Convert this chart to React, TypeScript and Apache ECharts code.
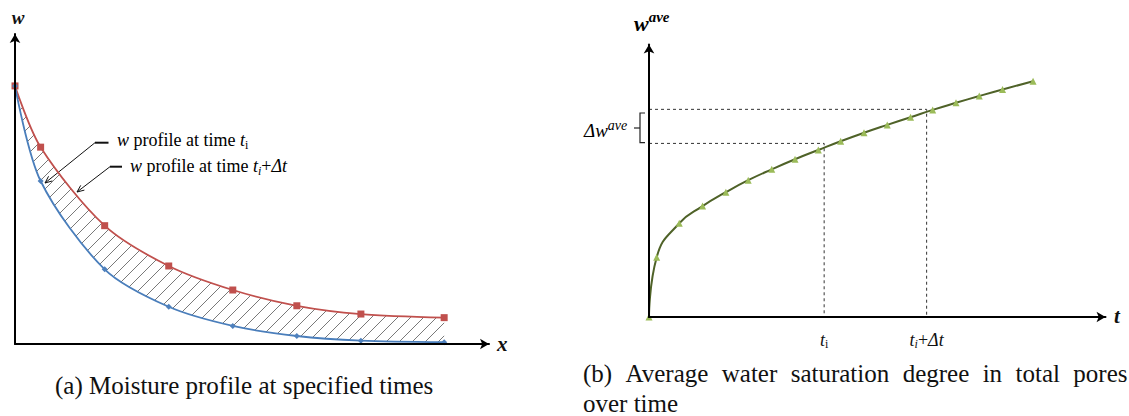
import React, { useEffect, useRef } from "react";
import * as echarts from "echarts";

// (a) moisture profiles along depth x
const profileX = [0, 0.4, 1.4, 2.4, 3.4, 4.4, 5.4, 6.7];
const profileAtTi = [9.99, 6.31, 2.89, 1.44, 0.7, 0.31, 0.13, 0.07];
const profileAtTiDt = [9.99, 7.62, 4.58, 3.02, 2.09, 1.48, 1.16, 1.02];

// (b) average saturation over time
const timeT = [0, 0.33, 1.3, 2.3, 3.3, 4.26, 5.27, 6.27, 7.27, 8.23, 9.23, 10.23, 11.23, 12.18, 13.18, 14.18, 15.18, 16.49];
const wAve = [0, 2.19, 3.44, 4.07, 4.58, 5.02, 5.42, 5.79, 6.13, 6.45, 6.76, 7.05, 7.33, 7.6, 7.86, 8.11, 8.35, 8.65];
const markT = [7.52, 11.92];
const markW = [6.37, 7.62];

const SERIF = "Liberation Serif";

const hatchSvg =
  '<svg xmlns="http://www.w3.org/2000/svg" width="13" height="13">' +
  '<path d="M-1 14 L14 -1 M-3 3 L3 -3 M10 16 L16 10" stroke="#6a6a6a" stroke-width="0.9" fill="none"/></svg>';
const hatchUrl = "data:image/svg+xml;utf8," + encodeURIComponent(hatchSvg);

function arrowHead(tip: number[], from: number[], len = 7, half = 3) {
  const dx = tip[0] - from[0];
  const dy = tip[1] - from[1];
  const d = Math.hypot(dx, dy);
  const ux = dx / d;
  const uy = dy / d;
  const bx = tip[0] - ux * len;
  const by = tip[1] - uy * len;
  return [
    [bx - uy * half, by + ux * half],
    tip,
    [bx + uy * half, by - ux * half],
  ];
}

function leader(start: number[], knee: number[], tip: number[]) {
  return [
    { type: "line", shape: { x1: start[0], y1: start[1], x2: knee[0], y2: knee[1] }, style: { stroke: "#111", lineWidth: 2 } },
    { type: "line", shape: { x1: knee[0], y1: knee[1], x2: tip[0], y2: tip[1] }, style: { stroke: "#111", lineWidth: 1 } },
    { type: "polyline", shape: { points: arrowHead(tip, knee) }, style: { stroke: "#111", lineWidth: 1, fill: null } },
  ];
}

const zip = (xs: number[], ys: number[]) => xs.map((x, i) => [x, ys[i]]);

const italicRich = {
  it: { fontFamily: SERIF, fontStyle: "italic", fontSize: 18, color: "#111" },
  n: { fontFamily: SERIF, fontSize: 18, color: "#111" },
  sub: { fontFamily: SERIF, fontSize: 12, color: "#111", padding: [9, 0, 0, 0] },
  isub: { fontFamily: SERIF, fontStyle: "italic", fontSize: 12, color: "#111", padding: [9, 0, 0, 0] },
};

const axisLine = {
  show: true,
  symbol: ["none", "arrow"],
  symbolSize: [8, 9],
  lineStyle: { color: "#000", width: 2 },
};

export default function App() {
  const ref = useRef<HTMLDivElement>(null);

  useEffect(() => {
    if (!ref.current) return;
    const chart = echarts.init(ref.current, null, { renderer: "svg" });

    const option: any = {
      animation: false,
      backgroundColor: "#fff",
      grid: [
        { left: 15, top: 34, width: 474, height: 310 },
        { left: 649, top: 44.5, width: 456.5, height: 272.5 },
      ],
      xAxis: [
        {
          gridIndex: 0, type: "value", min: 0, max: 7.4, z: 10,
          axisLine, axisTick: { show: false }, axisLabel: { show: false }, splitLine: { show: false },
        },
        {
          gridIndex: 1, type: "value", min: 0, max: 19.6, z: 10,
          axisLine, axisTick: { show: false }, splitLine: { show: false },
          axisLabel: {
            show: true,
            customValues: markT,
            margin: 12,
            formatter: (v: number) =>
              v === markT[0] ? "{it|t}{sub|i}" : "{it|t}{isub|i}{n|+}{it|Δt}",
            rich: italicRich,
          },
        },
      ],
      yAxis: [
        {
          gridIndex: 0, type: "value", min: 0, max: 12, z: 10,
          axisLine, axisTick: { show: false }, axisLabel: { show: false }, splitLine: { show: false },
        },
        {
          gridIndex: 1, type: "value", min: 0, max: 10, z: 10,
          axisLine, axisTick: { show: false }, axisLabel: { show: false }, splitLine: { show: false },
        },
      ],
      series: [
        // hatched band: hatch under the later profile, blanked out under the earlier one
        {
          type: "line", xAxisIndex: 0, yAxisIndex: 0, smooth: 0.3,
          data: zip(profileX, profileAtTiDt), symbol: "none", silent: true,
          lineStyle: { opacity: 0 },
          areaStyle: {
            opacity: 1,
            color: { image: hatchUrl, repeat: "repeat", imageWidth: 13, imageHeight: 13 },
          },
          z: 1,
        },
        {
          type: "line", xAxisIndex: 0, yAxisIndex: 0, smooth: 0.3,
          data: zip(profileX, profileAtTi), symbol: "none", silent: true,
          lineStyle: { opacity: 0 },
          areaStyle: { opacity: 1, color: "#fff" },
          z: 1,
        },
        {
          name: "t_i+Δt", type: "line", xAxisIndex: 0, yAxisIndex: 0, smooth: 0.3,
          data: zip(profileX, profileAtTiDt), symbol: "rect", symbolSize: 7,
          itemStyle: { color: "#c0504d" }, lineStyle: { color: "#c0504d", width: 1.8 }, z: 4,
        },
        {
          name: "t_i", type: "line", xAxisIndex: 0, yAxisIndex: 0, smooth: 0.3,
          data: zip(profileX, profileAtTi), symbol: "diamond", symbolSize: 6,
          itemStyle: { color: "#4f81bd" }, lineStyle: { color: "#4a7ebb", width: 1.8 }, z: 4,
        },
        // dashed guides at t_i and t_i+Δt
        ...markT.map((t, i) => ({
          type: "line", xAxisIndex: 1, yAxisIndex: 1, symbol: "none", silent: true,
          data: [[0, markW[i]], [t, markW[i]], [t, 0]],
          lineStyle: { color: "#333", width: 1, type: [3, 3] }, z: 2,
        })),
        {
          name: "w_ave", type: "line", xAxisIndex: 1, yAxisIndex: 1,
          smooth: 0.5,
          data: zip(timeT, wAve), symbol: "triangle", symbolSize: 7,
          itemStyle: { color: "#9bbb59" }, lineStyle: { color: "#4f6228", width: 2 }, z: 4,
        },
      ],
      graphic: [
        // axis names
        { type: "text", x: 18, y: 17, style: { text: "w", fontFamily: SERIF, fontWeight: "bold", fontStyle: "italic", fontSize: 19, fill: "#111", align: "center", verticalAlign: "middle" } },
        { type: "text", x: 497, y: 344, style: { text: "x", fontFamily: SERIF, fontWeight: "bold", fontStyle: "italic", fontSize: 21, fill: "#111", align: "left", verticalAlign: "middle" } },
        { type: "text", x: 1114, y: 316, style: { text: "t", fontFamily: SERIF, fontWeight: "bold", fontStyle: "italic", fontSize: 21, fill: "#111", align: "left", verticalAlign: "middle" } },
        {
          type: "text", x: 634, y: 23,
          style: {
            text: "{w|w}{s|ave}", align: "left", verticalAlign: "middle",
            rich: {
              w: { fontFamily: SERIF, fontWeight: "bold", fontStyle: "italic", fontSize: 22, color: "#111" },
              s: { fontFamily: SERIF, fontWeight: "bold", fontStyle: "italic", fontSize: 15, color: "#111", padding: [0, 0, 12, 0] },
            },
          },
        },
        // Δw^ave bracket
        {
          type: "text", x: 584, y: 130,
          style: {
            text: "{w|Δw}{s|ave}", align: "left", verticalAlign: "middle",
            rich: {
              w: { fontFamily: SERIF, fontStyle: "italic", fontSize: 19, color: "#111" },
              s: { fontFamily: SERIF, fontStyle: "italic", fontSize: 14, color: "#111", padding: [0, 0, 10, 0] },
            },
          },
        },
        { type: "polyline", shape: { points: [[645, 113], [640, 113], [640, 142.7], [645, 142.7]] }, style: { stroke: "#222", lineWidth: 1.2, fill: null } },
        { type: "line", shape: { x1: 634, y1: 128, x2: 640, y2: 128 }, style: { stroke: "#222", lineWidth: 1.2 } },
        // profile annotations
        {
          type: "text", x: 117, y: 140,
          style: { text: "{it|w}{n| profile at time }{it|t}{sub|i}", align: "left", verticalAlign: "middle", rich: italicRich },
        },
        {
          type: "text", x: 130, y: 166,
          style: { text: "{it|w}{n| profile at time }{it|t}{isub|i}{n|+}{it|Δt}", align: "left", verticalAlign: "middle", rich: italicRich },
        },
        ...leader([108.5, 142.7], [95, 142.7], [45, 183]),
        ...leader([122, 166.7], [110, 166.7], [77, 192]),
        // captions
        { type: "text", x: 55, y: 385, style: { text: "(a) Moisture profile at specified times", fontFamily: SERIF, fontSize: 25, fill: "#111", align: "left", verticalAlign: "middle" } },
        {
          type: "text", x: 583, y: 373,
          style: {
            // justified first line: widened word gaps
            text: "(b){g| }Average{g| }water{g| }saturation{g| }degree{g| }in{g| }total{g| }pores",
            fontFamily: SERIF, fontSize: 25, fill: "#111", align: "left", verticalAlign: "middle",
            rich: { g: { fontFamily: SERIF, fontSize: 25, width: 13.4 } },
          },
        },
        { type: "text", x: 583, y: 403, style: { text: "over time", fontFamily: SERIF, fontSize: 25, fill: "#111", align: "left", verticalAlign: "middle" } },
      ],
    };

    chart.setOption(option);
    return () => chart.dispose();
  }, []);

  return (
    <div
      ref={ref}
      style={{ position: "fixed", left: 0, top: 0, width: 1129, height: 416, background: "#fff" }}
    />
  );
}
